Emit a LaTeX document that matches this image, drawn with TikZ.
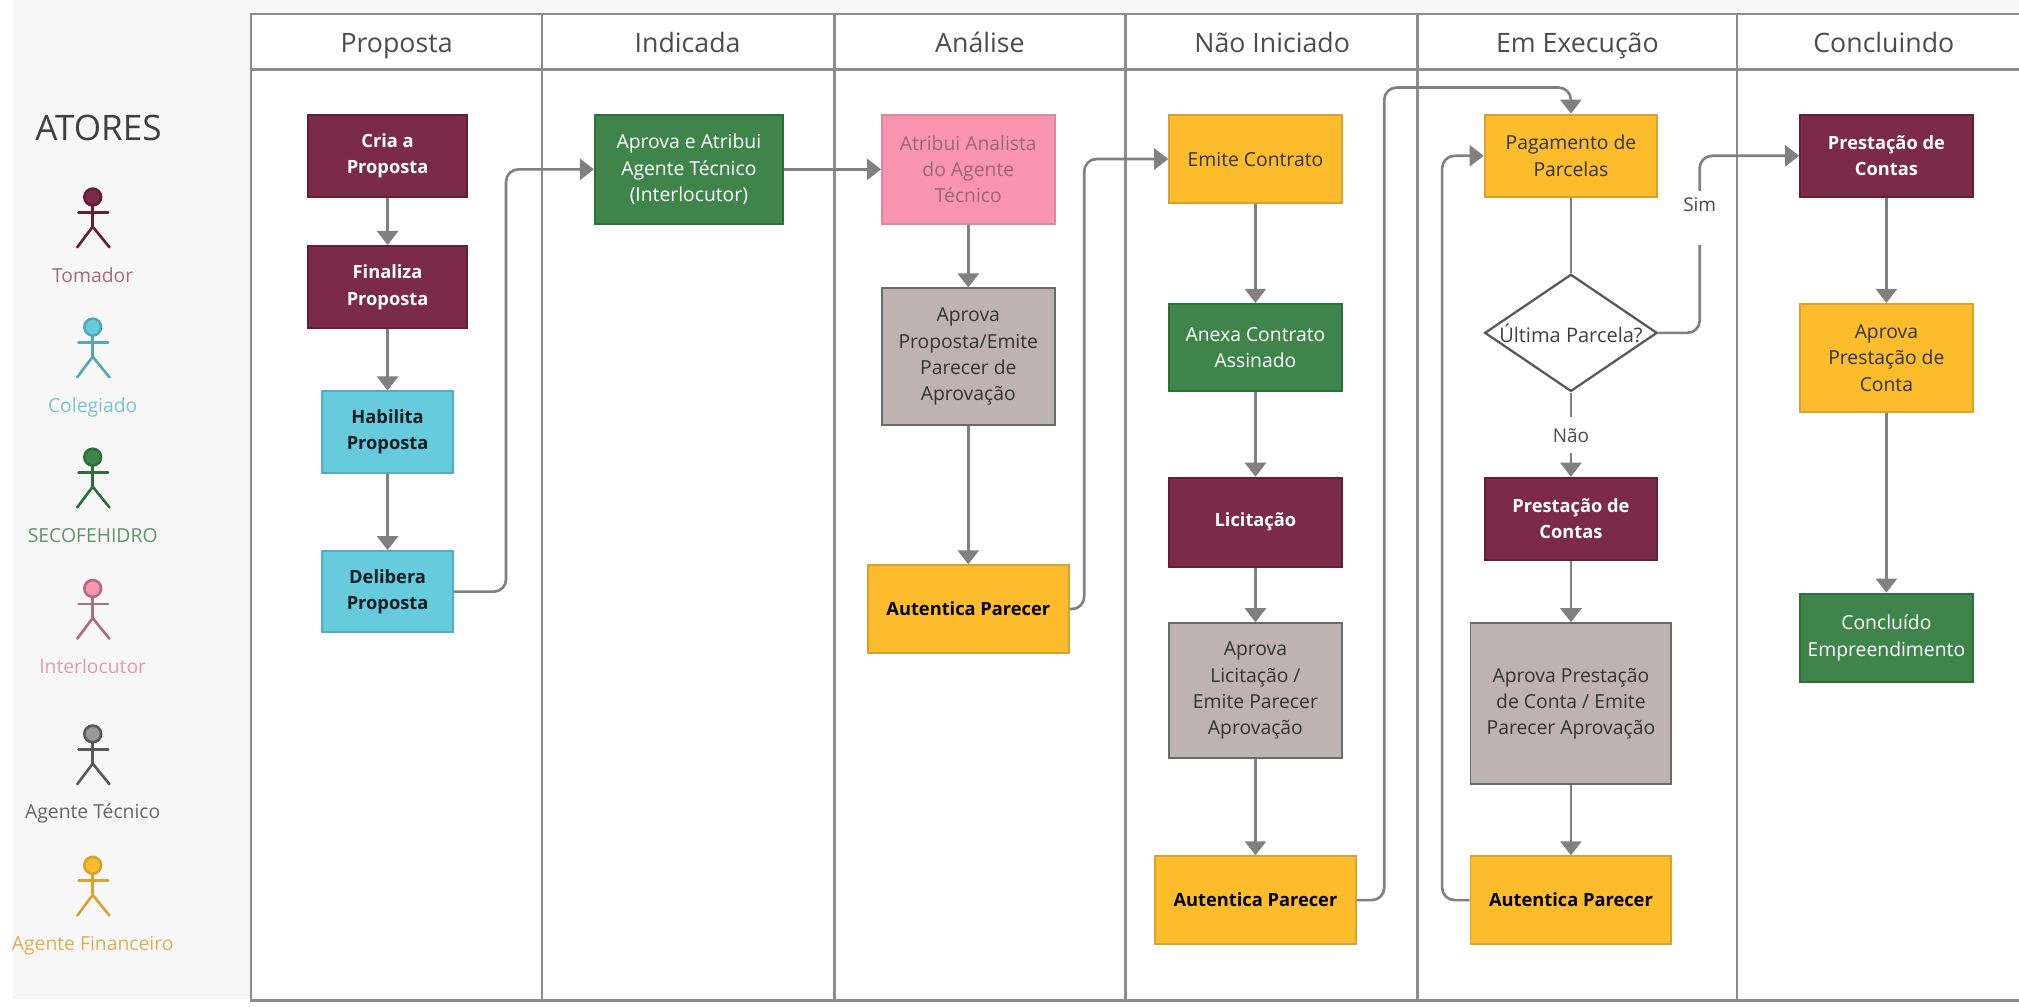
\documentclass[tikz,border=0pt]{standalone}
\usepackage{fontspec}
\setmainfont{Open Sans}
\usepackage{xcolor}
\usetikzlibrary{arrows.meta,shapes.geometric}

\definecolor{maroonfill}{HTML}{7B2A47}
\definecolor{maroonline}{HTML}{651D38}
\definecolor{cyanfill}{HTML}{65CBDD}
\definecolor{cyanline}{HTML}{4FAFBE}
\definecolor{greenfill}{HTML}{3F844B}
\definecolor{greenline}{HTML}{2F6F3B}
\definecolor{pinkfill}{HTML}{FA95B1}
\definecolor{pinkline}{HTML}{D98AA2}
\definecolor{mauvefill}{HTML}{BEB2B3}
\definecolor{mauveline}{HTML}{6A6A6A}
\definecolor{yellowfill}{HTML}{FDBC2C}
\definecolor{yellowline}{HTML}{D8A233}
\definecolor{lanegray}{HTML}{8C8C8C}
\definecolor{panegray}{HTML}{F7F7F7}

\def\boxunit{0.02575cm}
\tikzset{
    wh/.style 2 args={minimum width=#1*\boxunit, minimum height=#2*\boxunit},
    stepbox/.style={rectangle, draw, line width=1.1pt, inner sep=0pt, align=center, font=\fontsize{11}{15}\selectfont},
    maroonbox/.style={stepbox, fill=maroonfill, draw=maroonline, text=white, font=\fontsize{10.4}{15}\selectfont\bfseries},
    cyanbox/.style={stepbox, fill=cyanfill, draw=cyanline, text=black!85!cyanfill, font=\fontsize{10.4}{15}\selectfont\bfseries},
    greenbox/.style={stepbox, fill=greenfill, draw=greenline, text=white},
    pinkbox/.style={stepbox, fill=pinkfill, draw=pinkline, text=black!35!pinkfill!85!gray},
    mauvebox/.style={stepbox, fill=mauvefill, draw=mauveline, text=black!80},
    yellowbox/.style={stepbox, fill=yellowfill, draw=yellowline, text=black!80},
    yellowbold/.style={yellowbox, text=black, font=\fontsize{10.4}{15}\selectfont\bfseries},
    flow/.style={draw=gray, line width=1.5pt, rounded corners=7pt, -{Triangle[length=8pt,width=12pt]}},
    lane/.style={draw=lanegray, line width=1.5pt},
    flowlabel/.style={fill=white, text=black!70, inner sep=1pt, font=\fontsize{10.8}{12}\selectfont},
    lanetitle/.style={text=black!70, text height=11pt, text depth=3pt, inner sep=0pt, font=\fontsize{15.2}{18}\selectfont},
    actorname/.style={anchor=base, inner sep=0pt, font=\fontsize{11}{12}\selectfont}
}

\begin{document}
\begin{tikzpicture}[x=0.02575cm, y=-0.02575cm]
    \useasboundingbox (0,0) rectangle (1568,781.3);

    % Actors pane
    \fill[panegray] (10,0) rectangle (1568,776);
    \node[text=black!75, font=\fontsize{20}{22}\selectfont] (atores) at (76.5,99) {ATORES};

    \foreach \ypos/\name/\fillc/\linec/\textc/\lbl in {
        153/tomador/maroonfill/maroonline/maroonfill!70!white/Tomador,
        254/colegiado/cyanfill/cyanline!85!gray/cyanline!75!white/Colegiado,
        355/secofe/greenfill/greenline/greenline!75!white/SECOFEHIDRO,
        457/interlocutor/pinkfill/pinkline!80!black/pinkline!85!white/Interlocutor,
        570/tecnico/gray!80/black!65/black!60/Agente Técnico,
        672/financeiro/yellowfill/yellowline/yellowline!85!white/Agente Financeiro} {
        \draw[\linec, line width=1.5pt, line cap=round, fill=\fillc] (72,\ypos) circle (6.5);
        \draw[\linec, line width=1.5pt, line cap=round] (61,\ypos+12) -- (84,\ypos+12);
        \draw[\linec, line width=1.5pt, line cap=round] (72,\ypos+6.5) -- (72,\ypos+23);
        \draw[\linec, line width=1.5pt, line cap=round] (60,\ypos+39) -- (72,\ypos+23) -- (85,\ypos+39);
        \node[actorname, text=\textc] (\name) at (72,\ypos+66) {\lbl};
    }

    % Swimlanes
    \fill[white] (195,11) rectangle (1568,777);
    \draw[lane] (1568,11) -- (195,11) -- (195,777) -- (1568,777);
    \draw[lane] (195,54) -- (1568,54);
    \foreach \xpos in {421,648,874,1101,1349} {
        \draw[lane] (\xpos,11) -- (\xpos,777);
    }
    \foreach \xpos/\name/\lbl in {308/tproposta/Proposta, 534/tindicada/Indicada, 761/tanalise/Análise,
        988/tnaoiniciado/Não Iniciado, 1225/texecucao/Em Execução, 1463/tconcluindo/Concluindo} {
        \node[lanetitle] (\name) at (\xpos,35.5) {\lbl};
    }

    % Proposta
    \node[maroonbox, wh={124}{64}] (cria) at (301,121) {Cria a\\Proposta};
    \node[maroonbox, wh={124}{64}] (finaliza) at (301,223) {Finaliza\\Proposta};
    \node[cyanbox, wh={102}{63}] (habilita) at (301,335.5) {Habilita\\Proposta};
    \node[cyanbox, wh={102}{63}] (delibera) at (301,459.5) {Delibera\\Proposta};

    % Indicada
    \node[greenbox, wh={146}{85}] (atribui) at (535,131.5) {Aprova e Atribui\\Agente Técnico\\(Interlocutor)};

    % Analise
    \node[pinkbox, wh={134}{85}] (analista) at (752,131.5) {Atribui Analista\\do Agente\\Técnico};
    \node[mauvebox, wh={134}{106}] (aprovaprop) at (752,277) {Aprova\\Proposta/Emite\\Parecer de\\Aprovação};
    \node[yellowbold, wh={156}{68}] (autanalise) at (752,473) {Autentica Parecer};

    % Nao iniciado
    \node[yellowbox, wh={134}{69}] (emite) at (975,123.5) {Emite Contrato};
    \node[greenbox, wh={134}{68}] (anexa) at (975,270) {Anexa Contrato\\Assinado};
    \node[maroonbox, wh={134}{69}] (licitacao) at (975,405.5) {Licitação};
    \node[mauvebox, wh={134}{105}] (aprovalic) at (975,536.5) {Aprova\\Licitação /\\Emite Parecer\\Aprovação};
    \node[yellowbold, wh={156}{68}] (autinicio) at (975,699) {Autentica Parecer};

    % Em execucao
    \node[yellowbox, wh={134}{64}] (pagamento) at (1220,121) {Pagamento de\\Parcelas};
    \node[diamond, draw=black!65, fill=white, line width=1.3pt, inner sep=0pt, aspect=1.47, wh={134}{91},
        text=black!75, font=\fontsize{11.4}{12}\selectfont] (ultima) at (1220,258.5) {\makebox[0pt]{Última Parcela?}};
    \node[maroonbox, wh={134}{64}] (prestacao) at (1220,403) {Prestação de\\Contas};
    \node[mauvebox, wh={156}{125}] (aprovapre) at (1220,546.5) {Aprova Prestação\\de Conta / Emite\\Parecer Aprovação};
    \node[yellowbold, wh={156}{68}] (autexec) at (1220,699) {Autentica Parecer};

    % Concluindo
    \node[maroonbox, wh={134}{64}] (contas) at (1465,121) {Prestação de\\Contas};
    \node[yellowbox, wh={134}{84}] (aprovaconta) at (1465,278) {Aprova\\Prestação de\\Conta};
    \node[greenbox, wh={134}{69}] (concluido) at (1465,495.5) {Concluído\\Empreendimento};

    % Bend points of the long connectors
    \coordinate (bendprop) at (393,0);
    \coordinate (bendanalise) at (842,0);
    \coordinate (bendinicio) at (1075,68);
    \coordinate (bendexec) at (1120,0);
    \coordinate (bendsim) at (1320,0);

    % Connectors
    \draw[flow] (cria) -- (finaliza);
    \draw[flow] (finaliza) -- (habilita);
    \draw[flow] (habilita) -- (delibera);
    \draw[flow] (delibera) -- (bendprop |- delibera) -- (bendprop |- atribui) -- (atribui);
    \draw[flow] (atribui) -- (analista);
    \draw[flow] (analista) -- (aprovaprop);
    \draw[flow] (aprovaprop) -- (autanalise);
    \draw[flow] (autanalise) -- (bendanalise |- autanalise) -- (bendanalise |- emite) -- (emite);
    \draw[flow] (emite) -- (anexa);
    \draw[flow] (anexa) -- (licitacao);
    \draw[flow] (licitacao) -- (aprovalic);
    \draw[flow] (aprovalic) -- (autinicio);
    \draw[flow] (autinicio) -- (bendinicio |- autinicio) -- (bendinicio) -- (pagamento |- bendinicio) -- (pagamento);
    \draw[flow] (autexec) -- (bendexec |- autexec) -- (bendexec |- pagamento) -- (pagamento);
    \draw[flow, -] (pagamento) -- (ultima);
    \draw[flow] (ultima) -- (prestacao);
    \draw[flow] (ultima) -- (bendsim |- ultima) -- (bendsim |- contas) -- (contas);
    \draw[flow] (prestacao) -- (aprovapre);
    \draw[flow] (aprovapre) -- (autexec);
    \draw[flow] (contas) -- (aprovaconta);
    \draw[flow] (aprovaconta) -- (concluido);

    % Branch labels
    \node[flowlabel, minimum height=42*\boxunit] (sim) at (1320,169) {\raisebox{15pt}{Sim}};
    \node[flowlabel, minimum height=28*\boxunit] (nao) at (1220,338) {Não};
\end{tikzpicture}
\end{document}
